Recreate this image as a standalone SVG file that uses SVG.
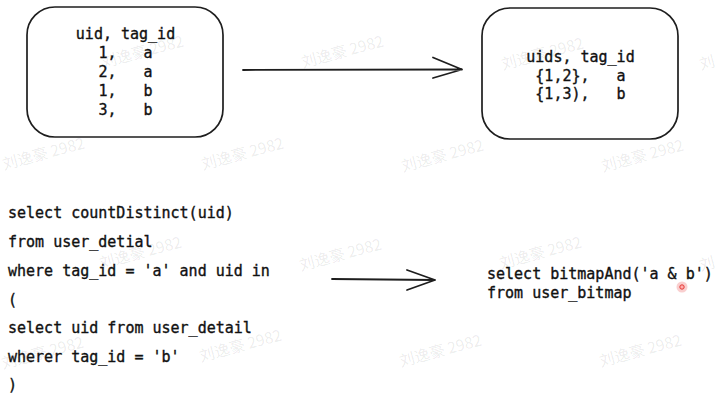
<svg xmlns="http://www.w3.org/2000/svg" width="718" height="400" viewBox="0 0 718 400">
  <defs>
    <style>
      .wm { font-family: "Noto Sans CJK SC", "Noto Sans", sans-serif; font-size: 15.5px; fill: #000; fill-opacity: 0.085; }
      .box { fill: none; stroke: #1e1e1e; stroke-width: 1.7; }
      .code { font-family: "DejaVu Sans Mono", "Liberation Mono", monospace; font-size: 15px; fill: #111; stroke: #111; stroke-width: 0.35; }
      .mid { text-anchor: middle; }
      .conn { fill: none; stroke: #1e1e1e; stroke-width: 1.8; stroke-linecap: round; stroke-linejoin: round; }
    </style>
  </defs>
  <rect width="718" height="400" fill="#fff"/>

  <g id="watermarks">
    <text class="wm" transform="translate(103,68) rotate(-15)">刘逸豪 2982</text>
    <text class="wm" transform="translate(303,68) rotate(-15)">刘逸豪 2982</text>
    <text class="wm" transform="translate(503,70) rotate(-15)">刘逸豪 2982</text>
    <text class="wm" transform="translate(701,70) rotate(-15)">刘</text>
    <text class="wm" transform="translate(4,170) rotate(-15)">刘逸豪 2982</text>
    <text class="wm" transform="translate(203,170) rotate(-15)">刘逸豪 2982</text>
    <text class="wm" transform="translate(403,172) rotate(-15)">刘逸豪 2982</text>
    <text class="wm" transform="translate(603,172) rotate(-15)">刘逸豪 2982</text>
    <text class="wm" transform="translate(101,269) rotate(-15)">刘逸豪 2982</text>
    <text class="wm" transform="translate(301,271) rotate(-15)">刘逸豪 2982</text>
    <text class="wm" transform="translate(501,269) rotate(-15)">刘逸豪 2982</text>
    <text class="wm" transform="translate(701,271) rotate(-15)">刘</text>
    <text class="wm" transform="translate(3,369) rotate(-15)">刘逸豪 2982</text>
    <text class="wm" transform="translate(201,362) rotate(-15)">刘逸豪 2982</text>
    <text class="wm" transform="translate(401,367) rotate(-15)">刘逸豪 2982</text>
    <text class="wm" transform="translate(601,367) rotate(-15)">刘逸豪 2982</text>
  </g>

  <g id="node-source">
    <rect class="box" x="27" y="7" width="196" height="130" rx="28" ry="28"/>
    <text class="code mid" xml:space="preserve"><tspan x="125.5" y="39">uid, tag_id</tspan><tspan x="125.5" y="58">1,   a</tspan><tspan x="125.5" y="77">2,   a</tspan><tspan x="125.5" y="96">1,   b</tspan><tspan x="125.5" y="115">3,   b</tspan></text>
  </g>

  <g id="node-bitmap">
    <rect class="box" x="482" y="8" width="196" height="131" rx="28" ry="28"/>
    <text class="code mid" xml:space="preserve"><tspan x="580.5" y="62">uids, tag_id</tspan><tspan x="580.5" y="80.5">{1,2},   a</tspan><tspan x="580.5" y="99">{1,3),   b</tspan></text>
  </g>

  <g id="node-sql-detail">
    <text class="code" xml:space="preserve"><tspan x="8" y="218">select countDistinct(uid)</tspan><tspan x="8" y="247">from user_detial</tspan><tspan x="8" y="276">where tag_id = 'a' and uid in</tspan><tspan x="8" y="305">(</tspan><tspan x="8" y="333">select uid from user_detail</tspan><tspan x="8" y="362">wherer tag_id = 'b'</tspan><tspan x="8" y="390">)</tspan></text>
  </g>

  <g id="node-sql-bitmap">
    <text class="code" xml:space="preserve"><tspan x="487" y="279">select bitmapAnd('a &amp; b')</tspan><tspan x="487" y="298">from user_bitmap</tspan></text>
  </g>

  <g id="connectors">
    <path class="conn" d="M243 70 L462 69.5 M433 57.5 L462 69.5 L433 78"/>
    <path class="conn" d="M332 279 L435 280 M407 270 L435 280 L407 290"/>
  </g>

  <g id="cursor-dot">
    <circle cx="682" cy="287" r="5.5" fill="#f4a0a0" fill-opacity="0.5"/>
    <circle cx="682" cy="287" r="2.2" fill="#ffb0b0" stroke="#e53935" stroke-width="1"/>
  </g>
</svg>
